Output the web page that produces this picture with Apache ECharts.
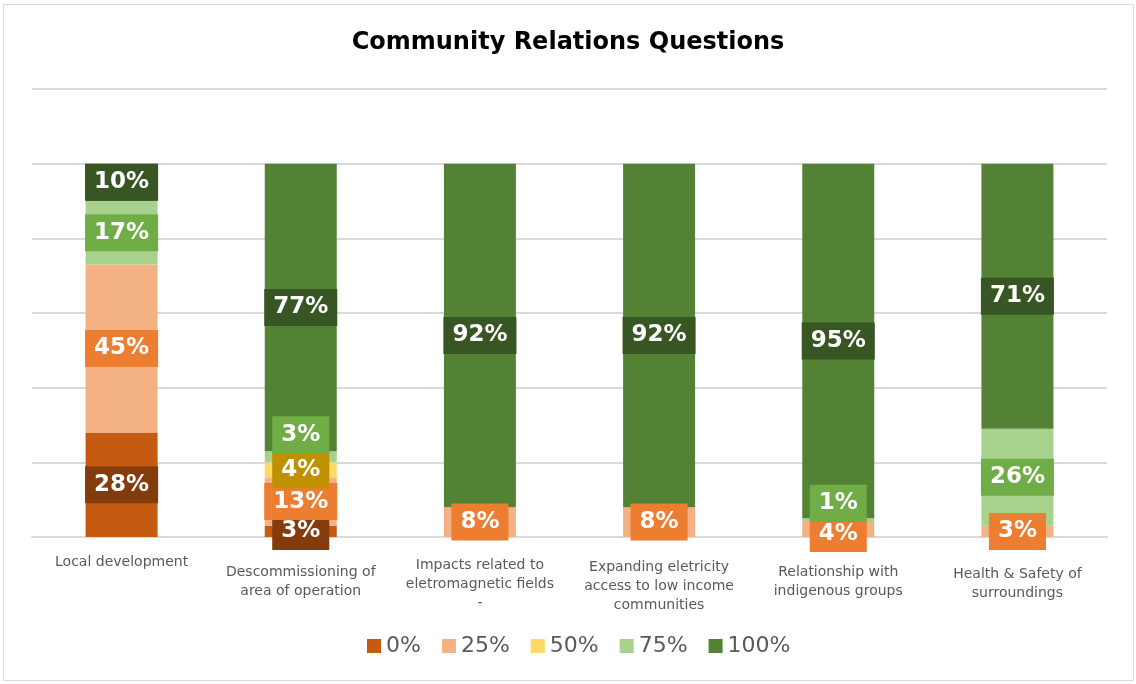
<!DOCTYPE html>
<html>
<head>
<meta charset="utf-8">
<script src="https://cdn.jsdelivr.net/npm/echarts@6/dist/echarts.min.js"></script>
<style>
  html, body { margin: 0; padding: 0; background: #fff; }
  #chart { width: 1136px; height: 684px; }
</style>
</head>
<body>
<div id="chart"></div>
<script>
// Survey topics (x axis)
const categories = [
  'Local development',
  'Descommissioning of\narea of operation',
  'Impacts related to\neletromagnetic fields\n-',
  'Expanding eletricity\naccess to low income\ncommunities',
  'Relationship with\nindigenous groups',
  'Health & Safety of\nsurroundings'
];

// Share of answers per rating level, in percent
const seriesNames = ['0%', '25%', '50%', '75%', '100%'];
const score0   = [28, 3, 0, 0, 0, 0];
const score25  = [45, 13, 8, 8, 4, 3];
const score50  = [0, 4, 0, 0, 0, 0];
const score75  = [17, 3, 0, 0, 1, 26];
const score100 = [10, 77, 92, 92, 95, 71];
const seriesValues = [score0, score25, score50, score75, score100];

// Bar fills and label boxes for each level
const barColors   = ['#c55a11', '#f4b183', '#ffd966', '#a9d18e', '#548235'];
const labelColors = ['#843c0c', '#ed7d31', '#bf9000', '#70ad47', '#375623'];

// Labels nudged off tiny segments so they do not overlap
const labelShift = { '3-1': -22, '3-4': -17, '1-4': 4 };

// Extra top space above each axis label block
const axisLabelTop = [0, 10, 3, 5, 10, 12];

const fontFamily = 'DejaVu Sans, Verdana, sans-serif';

const chart = echarts.init(document.getElementById('chart'));

const series = seriesNames.map((name, s) => ({
  name: name,
  type: 'bar',
  stack: 'total',
  barWidth: 72,
  itemStyle: { color: barColors[s] },
  label: {
    show: true,
    position: 'inside',
    formatter: p => p.value + '%',
    color: '#ffffff',
    fontFamily: fontFamily,
    fontWeight: 'bold',
    fontSize: 23,
    lineHeight: 28,
    backgroundColor: labelColors[s],
    padding: [5, 9, 4, 9]
  },
  data: seriesValues[s].map((v, i) => {
    const item = { value: v };
    if (v === 0) {
      item.label = { show: false };
    } else if (labelShift[s + '-' + i] !== undefined) {
      item.label = { offset: [0, labelShift[s + '-' + i]] };
    }
    return item;
  })
}));

const labelRich = { n: { fontFamily: fontFamily, fontSize: 14, color: '#595959', lineHeight: 19 } };
axisLabelTop.forEach((t, i) => {
  labelRich['s' + i] = { fontSize: 1, lineHeight: t };
});

chart.setOption({
  animation: false,
  backgroundColor: '#ffffff',
  title: {
    text: 'Community Relations Questions',
    left: 'center',
    top: 26,
    textStyle: {
      fontFamily: fontFamily,
      fontWeight: 'bold',
      fontSize: 24,
      color: '#000000'
    }
  },
  legend: {
    bottom: 22,
    left: 362,
    itemWidth: 14,
    itemHeight: 14,
    itemGap: 21,
    icon: 'rect',
    textStyle: {
      fontFamily: fontFamily,
      fontSize: 22,
      color: '#595959'
    },
    data: seriesNames
  },
  grid: {
    left: 32,
    right: 29,
    top: 89,
    bottom: 147,
    containLabel: false
  },
  xAxis: {
    type: 'category',
    data: categories,
    axisLine: { show: true, lineStyle: { color: '#d9d9d9', width: 2 } },
    axisTick: { show: false },
    axisLabel: {
      interval: 0,
      margin: 16,
      formatter: (value, index) => {
        const body = value.split('\n').map(l => '{n|' + l + '}').join('\n');
        return axisLabelTop[index] > 0 ? '{s' + index + '| }\n' + body : body;
      },
      rich: labelRich
    }
  },
  yAxis: {
    type: 'value',
    min: 0,
    max: 120,
    interval: 20,
    axisLabel: { show: false },
    axisLine: { show: false },
    axisTick: { show: false },
    splitLine: { lineStyle: { color: '#d9d9d9', width: 2 } }
  },
  graphic: [{
    type: 'rect',
    shape: { x: 3.5, y: 4.5, width: 1130, height: 676 },
    style: { fill: 'none', stroke: '#d9d9d9', lineWidth: 1 },
    silent: true,
    z: -10
  }],
  series: series
});
</script>
</body>
</html>
